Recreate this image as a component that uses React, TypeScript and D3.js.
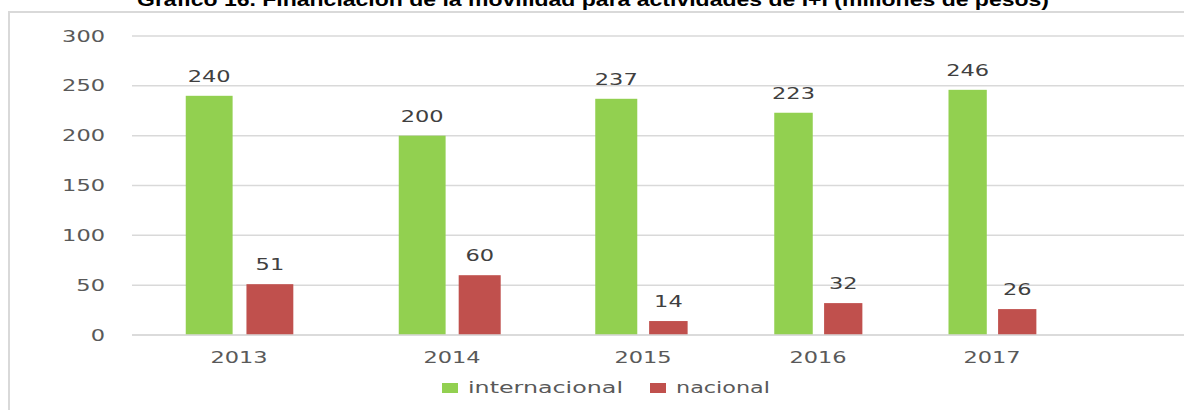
import * as d3 from "d3";

const years = ["2013", "2014", "2015", "2016", "2017"];
const internacional = [240, 200, 237, 223, 246];
const nacional = [51, 60, 14, 32, 26];
const yTicks = [0, 50, 100, 150, 200, 250, 300];
const seriesNames = ["internacional", "nacional"];
const colors = ["#92d050", "#c0504d"];

const title =
  "Gráfico 16. Financiación de la movilidad para actividades de I+I (millones de pesos)";

const W = 1184;
const H = 410;
const FONT = "DejaVu Sans, Verdana, sans-serif";
const STRETCH = 1.5;

export default function App() {
  // the source picture is stretched unevenly, so category centres follow a piecewise scale
  const x = d3.scaleLinear().domain([0, 1, 2, 3, 4]).range([239, 452, 643, 818, 992]);
  const y = d3.scaleLinear().domain([0, 300]).range([335, 36]);
  const plotLeft = 132;

  const series = [internacional, nacional];
  // bar extent in category-index units
  const barOffsets: [number, number][] = [
    [-0.25, -0.03],
    [0.035, 0.255],
  ];

  return (
    <svg
      width={W}
      height={H}
      style={{ position: "absolute", left: 0, top: 0, background: "#fff" }}
    >
      <text
        x={593}
        y={6}
        textAnchor="middle"
        fontFamily="Liberation Sans, Arial, sans-serif"
        fontWeight="bold"
        fontSize={18}
        textLength={912}
        lengthAdjust="spacingAndGlyphs"
        fill="#000"
      >
        {title}
      </text>

      <rect x={9} y={12} width={W + 10} height={H + 10} fill="none" stroke="#d9d9d9" strokeWidth={2} />

      {yTicks.map((t) => (
        <g key={t}>
          <line x1={plotLeft} x2={W} y1={y(t)} y2={y(t)} stroke="#d9d9d9" strokeWidth={1.5} />
          <text
            transform={`translate(105,${y(t) + 5.5}) scale(${STRETCH},1)`}
            textAnchor="end"
            fontFamily={FONT}
            fontSize={15}
            fill="#595959"
          >
            {t}
          </text>
        </g>
      ))}

      {series.map((vals, s) =>
        vals.map((v, i) => {
          const x0 = x(i + barOffsets[s][0]);
          const x1 = x(i + barOffsets[s][1]);
          return (
            <g key={`${s}-${i}`}>
              <rect x={x0} y={y(v)} width={x1 - x0} height={y(0) - y(v)} fill={colors[s]} />
              <text
                transform={`translate(${(x0 + x1) / 2},${y(v) - 14}) scale(${STRETCH},1)`}
                textAnchor="middle"
                fontFamily={FONT}
                fontSize={15}
                fill="#404040"
              >
                {v}
              </text>
            </g>
          );
        })
      )}

      <line x1={plotLeft} x2={W} y1={y(0)} y2={y(0)} stroke="#d9d9d9" strokeWidth={1.5} />

      {years.map((yr, i) => (
        <text
          key={yr}
          transform={`translate(${x(i)},${363}) scale(${STRETCH},1)`}
          textAnchor="middle"
          fontFamily={FONT}
          fontSize={15}
          fill="#595959"
        >
          {yr}
        </text>
      ))}

      {seriesNames.map((name, s) => {
        const lx = [442, 650][s];
        const len = [155, 94][s];
        return (
          <g key={name}>
            <rect x={lx} y={383} width={16} height={10} fill={colors[s]} />
            <text
              x={lx + 26}
              y={393}
              fontFamily={FONT}
              fontSize={15}
              textLength={len}
              lengthAdjust="spacingAndGlyphs"
              fill="#595959"
            >
              {name}
            </text>
          </g>
        );
      })}
    </svg>
  );
}
